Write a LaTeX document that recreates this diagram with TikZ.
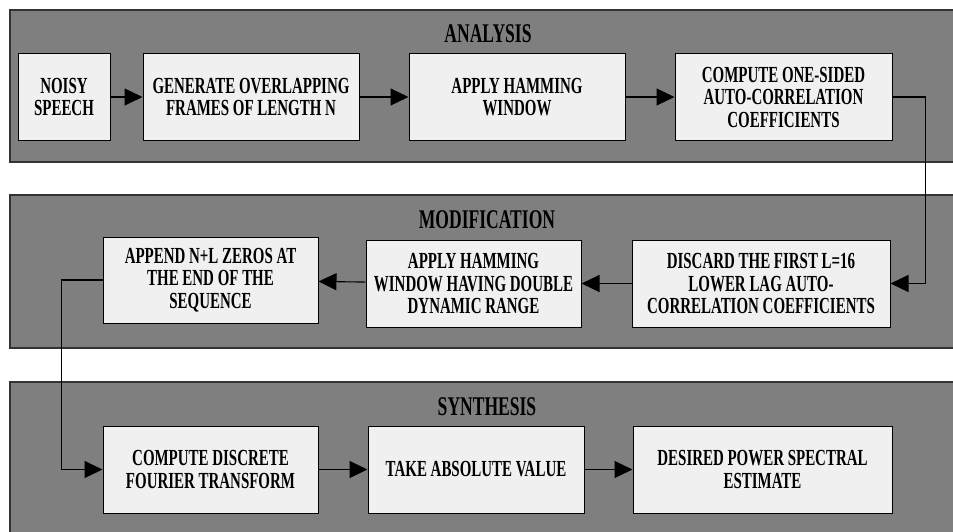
\documentclass[tikz,border=0pt]{standalone}
\usepackage{fontspec}
\setmainfont{Liberation Serif}[FakeStretch=0.65]
\usepackage{tikz}
\usetikzlibrary{arrows.meta,positioning,calc}

\definecolor{panelgray}{HTML}{7F7F7F}
\definecolor{boxgray}{HTML}{F0F0F0}

\begin{document}
\begin{tikzpicture}[
x=1pt,
y=-1pt,
panel/.style={
  draw=black!80,
  fill=panelgray,
  line width=1.2pt
  },
stage/.style={
  draw=black,
  fill=boxgray,
  line width=1pt,
  minimum height=87pt,
  inner sep=2pt,
  align=center,
  font=\fontsize{23}{22.5}\selectfont\bfseries
  },
heading/.style={
  font=\fontsize{27}{28}\selectfont\bfseries,
  inner sep=0pt
  },
flow/.style={
  ->,
  line width=1.1pt
  },
>={Triangle[length=18pt,width=17pt]}
]
\useasboundingbox (0,0) rectangle (953,531);
% panels
\draw[panel] (10,10) rectangle (958,162);
\draw[panel] (10,195) rectangle (958,348);
\draw[panel] (10,382) rectangle (958,540);
\node[heading] (tana) at (488,34) {ANALYSIS};
\node[heading] (tmod) at (487,220) {MODIFICATION};
\node[heading] (tsyn) at (487,407) {SYNTHESIS};
% analysis
\node[stage, minimum width=92pt] (noisy) at (64,97) {NOISY\\SPEECH};
\node[stage, minimum width=216pt] (frames) at (251,97) {GENERATE OVERLAPPING\\FRAMES OF LENGTH N};
\node[stage, minimum width=216pt] (hamming) at (517,97) {APPLY HAMMING\\WINDOW};
\node[stage, minimum width=217pt] (autocorr) at (783.5,97) {COMPUTE ONE-SIDED\\AUTO-CORRELATION\\COEFFICIENTS};
% modification
\node[stage, minimum width=258pt] (discard) at (761,283.5) {DISCARD THE FIRST L=16\\LOWER LAG AUTO-\\CORRELATION COEFFICIENTS};
\node[stage, minimum width=215pt] (dynham) at (473.5,283.5) {APPLY HAMMING\\WINDOW HAVING DOUBLE\\DYNAMIC RANGE};
\node[stage, minimum width=215pt, minimum height=86pt] (append) at (210.5,280) {APPEND N+L ZEROS AT\\THE END OF THE\\SEQUENCE};
% synthesis
\node[stage, minimum width=215pt] (dft) at (210.5,469.5) {COMPUTE DISCRETE\\FOURIER TRANSFORM};
\node[stage, minimum width=216pt] (absval) at (476,469.5) {TAKE ABSOLUTE VALUE};
\node[stage, minimum width=259pt] (psd) at (762.5,469.5) {DESIRED POWER SPECTRAL\\ESTIMATE};
% connectors
\draw[flow] (noisy) -- (frames);
\draw[flow] (frames) -- (hamming);
\draw[flow] (hamming) -- (autocorr);
\draw[flow] (autocorr.east) -- ++(33,0) |- (discard.east);
\draw[flow] (discard) -- (dynham);
\draw[flow] (dynham) -- (append);
\draw[flow] (append.west) -- ++(-41,0) |- (dft.west);
\draw[flow] (dft) -- (absval);
\draw[flow] (absval) -- (psd);
\end{tikzpicture}
\end{document}
